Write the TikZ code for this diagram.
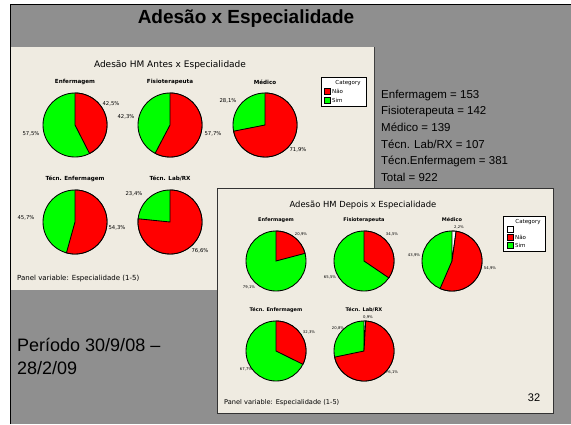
\documentclass[tikz,border=0pt]{standalone}
\usepackage{fontspec}
\setmainfont{Liberation Sans}
\newfontfamily\chartfont{DejaVu Sans}
\definecolor{slidegray}{RGB}{143,143,143}
\definecolor{panelbg}{RGB}{239,235,225}
\definecolor{naored}{RGB}{255,0,0}
\definecolor{simgreen}{RGB}{0,255,0}

\begin{document}
\begin{tikzpicture}[x=1pt,y=-1pt,
    pie/.style={draw=black,line width=0.85pt},
    ctitle/.style={font=\chartfont\fontsize{9}{10}\selectfont,inner sep=0pt},
    ptitle/.style={font=\chartfont\bfseries\fontsize{5.6}{6}\selectfont,inner sep=0pt},
    ptitlesm/.style={font=\chartfont\bfseries\fontsize{5}{6}\selectfont,inner sep=0pt},
    pct/.style={font=\chartfont\fontsize{5.3}{6}\selectfont,inner sep=0pt},
    pctsm/.style={font=\chartfont\fontsize{3.8}{4}\selectfont,inner sep=0pt},
    legtext/.style={font=\chartfont\fontsize{5.5}{6}\selectfont,inner sep=0pt},
    panelnote/.style={font=\chartfont\fontsize{7}{8}\selectfont,inner sep=0pt,anchor=west},
    swatch/.style={draw=black,line width=0.5pt}]
  \useasboundingbox (0,0) rectangle (571,424);
  % slide background
  \fill[white] (0,0) rectangle (571,424);
  \fill[slidegray] (11,5) rectangle (571,424);
  \draw[line width=1.2pt] (10.5,424) -- (10.5,4.5) -- (571,4.5);
  \node[font=\bfseries\fontsize{19}{22}\selectfont] (title) at (246,19) {Adesão x Especialidade};

  % chart before
  \fill[panelbg] (11,47) rectangle (374,290);
  \draw[gray!50!black] (374,47) -- (374,290);
  \node[ctitle] (aTitle) at (170,65) {Adesão HM Antes x Especialidade};

  \coordinate (aEnf) at (75,125);
  \filldraw[pie,fill=simgreen] (aEnf) circle[radius=32];
  \filldraw[pie,fill=naored] (aEnf) -- ++(-90:32) arc[start angle=-90,delta angle=153,radius=32] -- cycle;
  \node[ptitle] (aEnfT) at (75,82) {Enfermagem};
  \node[pct] (aEnfN) at (111,104) {42,5\%};
  \node[pct] (aEnfS) at (31,134) {57,5\%};

  \coordinate (aFis) at (170,125);
  \filldraw[pie,fill=simgreen] (aFis) circle[radius=32];
  \filldraw[pie,fill=naored] (aFis) -- ++(-90:32) arc[start angle=-90,delta angle=207.7,radius=32] -- cycle;
  \node[ptitle] (aFisT) at (170,82) {Fisioterapeuta};
  \node[pct] (aFisS) at (126,117) {42,3\%};
  \node[pct] (aFisN) at (213,134) {57,7\%};

  \coordinate (aMed) at (265,125);
  \filldraw[pie,fill=simgreen] (aMed) circle[radius=32];
  \filldraw[pie,fill=naored] (aMed) -- ++(-90:32) arc[start angle=-90,delta angle=258.8,radius=32] -- cycle;
  \node[ptitle] (aMedT) at (265,82) {Médico};
  \node[pct] (aMedS) at (228,101) {28,1\%};
  \node[pct] (aMedN) at (298,150) {71,9\%};

  \coordinate (aTEnf) at (75,222);
  \filldraw[pie,fill=simgreen] (aTEnf) circle[radius=32];
  \filldraw[pie,fill=naored] (aTEnf) -- ++(-90:32) arc[start angle=-90,delta angle=195.5,radius=32] -- cycle;
  \node[ptitle] (aTEnfT) at (75,179) {Técn. Enfermagem};
  \node[pct] (aTEnfS) at (26,218) {45,7\%};
  \node[pct] (aTEnfN) at (117,228) {54,3\%};

  \coordinate (aLab) at (170,222);
  \filldraw[pie,fill=simgreen] (aLab) circle[radius=32];
  \filldraw[pie,fill=naored] (aLab) -- ++(-90:32) arc[start angle=-90,delta angle=275.8,radius=32] -- cycle;
  \node[ptitle] (aLabT) at (170,179) {Técn. Lab/RX};
  \node[pct] (aLabS) at (134,194) {23,4\%};
  \node[pct] (aLabN) at (200,251) {76,6\%};

  \filldraw[fill=white,draw=black,line width=0.6pt] (321,77) rectangle (366,106);
  \node[legtext] (aLegT) at (348,83) {Category};
  \filldraw[swatch,fill=naored] (324,88) rectangle (330,94);
  \node[legtext,anchor=west] (aLegN) at (332,91) {Não};
  \filldraw[swatch,fill=simgreen] (324,97) rectangle (330,103);
  \node[legtext,anchor=west] (aLegS) at (332,100) {Sim};
  \node[panelnote] (aNote) at (17,279) {Panel variable: Especialidade (1-5)};

  % counts
  \node[anchor=north west,inner sep=0pt,align=left,font=\fontsize{11.5}{16.7}\selectfont] (counts) at (381,89.5)
    {Enfermagem = 153\\Fisioterapeuta = 142\\Médico = 139\\Técn. Lab/RX = 107\\Técn.Enfermagem = 381\\Total = 922};

  % chart after
  \filldraw[fill=panelbg,draw=black!80,line width=0.8pt] (217,188) rectangle (553,413);
  \node[ctitle,font=\chartfont\fontsize{8.4}{10}\selectfont] (dTitle) at (363,205) {Adesão HM Depois x Especialidade};

  \coordinate (dEnf) at (276,261);
  \filldraw[pie,fill=simgreen] (dEnf) circle[radius=30];
  \filldraw[pie,fill=naored] (dEnf) -- ++(-90:30) arc[start angle=-90,delta angle=75.2,radius=30] -- cycle;
  \node[ptitlesm] (dEnfT) at (276,220) {Enfermagem};
  \node[pctsm] (dEnfN) at (301,234) {20,9\%};
  \node[pctsm] (dEnfS) at (249,287) {79,1\%};

  \coordinate (dFis) at (364,261);
  \filldraw[pie,fill=simgreen] (dFis) circle[radius=30];
  \filldraw[pie,fill=naored] (dFis) -- ++(-90:30) arc[start angle=-90,delta angle=124.2,radius=30] -- cycle;
  \node[ptitlesm] (dFisT) at (364,220) {Fisioterapeuta};
  \node[pctsm] (dFisN) at (392,234) {34,5\%};
  \node[pctsm] (dFisS) at (330,277) {65,5\%};

  \coordinate (dMed) at (452,261);
  \filldraw[pie,fill=simgreen] (dMed) circle[radius=30];
  \filldraw[pie,fill=white] (dMed) -- ++(-90:30) arc[start angle=-90,delta angle=7.9,radius=30] -- cycle;
  \filldraw[pie,fill=naored] (dMed) -- ++(-82.1:30) arc[start angle=-82.1,delta angle=195.5,radius=30] -- cycle;
  \node[ptitlesm] (dMedT) at (452,220) {Médico};
  \node[pctsm] (dMedB) at (459,227) {2,2\%};
  \node[pctsm] (dMedN) at (490,268) {54,9\%};
  \node[pctsm] (dMedS) at (414,255) {43,9\%};

  \coordinate (dTEnf) at (276,351);
  \filldraw[pie,fill=simgreen] (dTEnf) circle[radius=30];
  \filldraw[pie,fill=naored] (dTEnf) -- ++(-90:30) arc[start angle=-90,delta angle=116.3,radius=30] -- cycle;
  \node[ptitlesm] (dTEnfT) at (276,310) {Técn. Enfermagem};
  \node[pctsm] (dTEnfN) at (309,332) {32,3\%};
  \node[pctsm] (dTEnfS) at (246,369) {67,7\%};

  \coordinate (dLab) at (364,351);
  \filldraw[pie,fill=simgreen] (dLab) circle[radius=30];
  \filldraw[pie,fill=white] (dLab) -- ++(-90:30) arc[start angle=-90,delta angle=3.2,radius=30] -- cycle;
  \filldraw[pie,fill=naored] (dLab) -- ++(-86.8:30) arc[start angle=-86.8,delta angle=255,radius=30] -- cycle;
  \node[ptitlesm] (dLabT) at (364,310) {Técn. Lab/RX};
  \node[pctsm] (dLabB) at (368,317) {0,9\%};
  \node[pctsm] (dLabS) at (338,328) {20,8\%};
  \node[pctsm] (dLabN) at (392,372) {76,1\%};

  \filldraw[fill=white,draw=black,line width=0.6pt] (503,216) rectangle (545,251);
  \node[legtext] (dLegT) at (528,222) {Category};
  \filldraw[swatch,fill=white] (507,226) rectangle (513,232);
  \filldraw[swatch,fill=naored] (507,234) rectangle (513,240);
  \node[legtext,anchor=west] (dLegN) at (515,237) {Não};
  \filldraw[swatch,fill=simgreen] (507,242) rectangle (513,248);
  \node[legtext,anchor=west] (dLegS) at (515,245) {Sim};
  \node[panelnote,font=\chartfont\fontsize{6.6}{8}\selectfont] (dNote) at (224,403) {Panel variable: Especialidade (1-5)};
  \node[font=\fontsize{11}{12}\selectfont] (page) at (534,398) {32};

  % period
  \node[anchor=north west,inner sep=0pt,align=left,font=\fontsize{18}{23}\selectfont] (period) at (17,338)
    {Período 30/9/08 –\\28/2/09};
\end{tikzpicture}
\end{document}
